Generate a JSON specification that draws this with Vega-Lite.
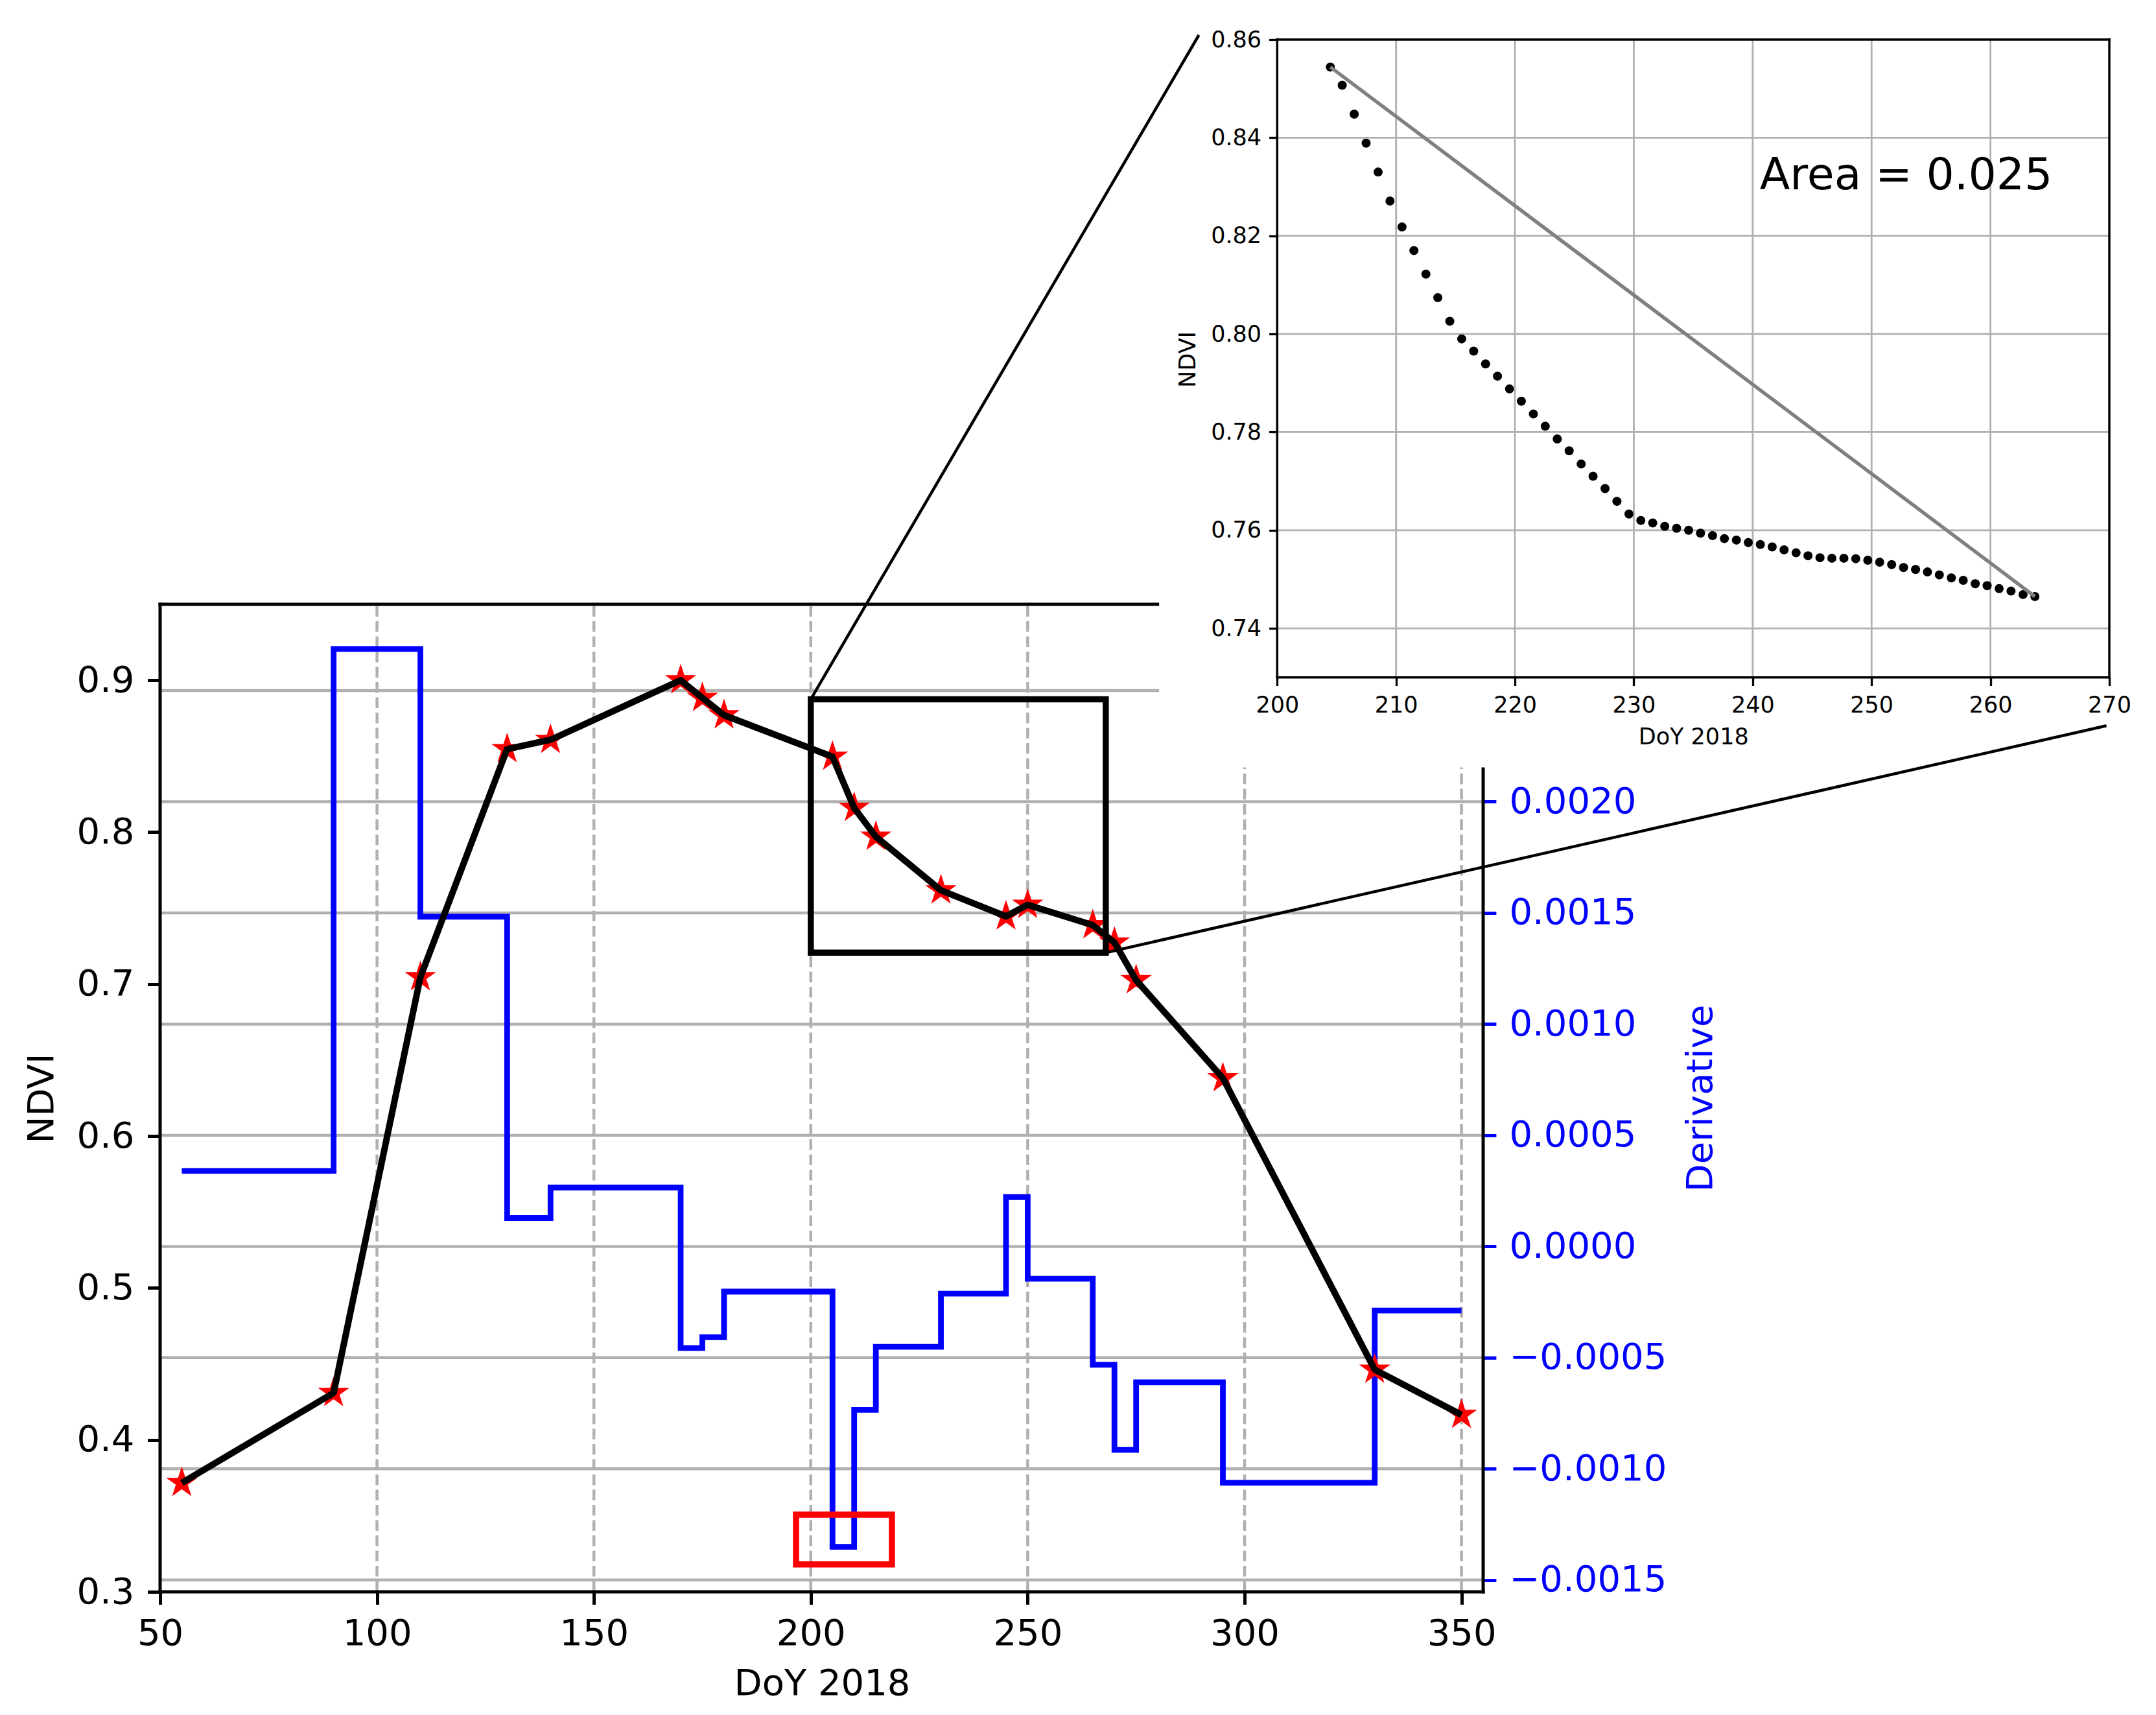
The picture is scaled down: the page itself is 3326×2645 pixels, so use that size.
{
  "$schema": "https://vega.github.io/schema/vega-lite/v6.json",
  "width": 3007,
  "height": 2394,
  "autosize": {"type": "none"},
  "padding": {"left": 247, "top": 61, "right": 72, "bottom": 190},
  "background": "white",
  "config": {
    "font": "DejaVu Sans",
    "view": {"stroke": null},
    "axis": {
      "domain": false,
      "grid": false,
      "labelFont": "DejaVu Sans",
      "titleFont": "DejaVu Sans",
      "titleFontWeight": "normal",
      "labelColor": "black",
      "titleColor": "black",
      "tickColor": "black",
      "labelFlush": false,
      "labelOverlap": false,
      "labelLimit": 2000,
      "titleLimit": 2000,
      "maxExtent": 1000,
      "minExtent": 0
    }
  },
  "datasets": {
    "ndvi": [
      {"x": 55, "y": 0.3717}, {"x": 90, "y": 0.4309}, {"x": 110, "y": 0.7046}, {"x": 130, "y": 0.8547},
      {"x": 140, "y": 0.8608}, {"x": 170, "y": 0.9}, {"x": 175, "y": 0.8884}, {"x": 180, "y": 0.877},
      {"x": 205, "y": 0.8497}, {"x": 210, "y": 0.816}, {"x": 215, "y": 0.797}, {"x": 230, "y": 0.7617},
      {"x": 245, "y": 0.7446}, {"x": 250, "y": 0.7522}, {"x": 265, "y": 0.7388}, {"x": 270, "y": 0.7274},
      {"x": 275, "y": 0.7026}, {"x": 295, "y": 0.6381}, {"x": 330, "y": 0.4462}, {"x": 350, "y": 0.4165}
    ],
    "deriv": [
      {"x": 55, "y": 0.00034}, {"x": 90, "y": 0.002687}, {"x": 110, "y": 0.001483}, {"x": 130, "y": 0.000128},
      {"x": 140, "y": 0.000265}, {"x": 170, "y": -0.000457}, {"x": 175, "y": -0.000408}, {"x": 180, "y": -0.000203},
      {"x": 205, "y": -0.001351}, {"x": 210, "y": -0.000735}, {"x": 215, "y": -0.000451}, {"x": 230, "y": -0.000212},
      {"x": 245, "y": 0.000222}, {"x": 250, "y": -0.000145}, {"x": 265, "y": -0.000532}, {"x": 270, "y": -0.000915},
      {"x": 275, "y": -0.000611}, {"x": 295, "y": -0.001063}, {"x": 330, "y": -0.000288}, {"x": 350, "y": -0.000288}
    ],
    "inset": [
      {"x": 204.47, "y": 0.8544}, {"x": 205.47, "y": 0.8507}, {"x": 206.48, "y": 0.8448}, {"x": 207.48, "y": 0.8389},
      {"x": 208.49, "y": 0.833}, {"x": 209.49, "y": 0.8271}, {"x": 210.5, "y": 0.8218}, {"x": 211.5, "y": 0.817},
      {"x": 212.51, "y": 0.8122}, {"x": 213.51, "y": 0.8074}, {"x": 214.52, "y": 0.8026}, {"x": 215.52, "y": 0.799},
      {"x": 216.53, "y": 0.7965}, {"x": 217.53, "y": 0.7939}, {"x": 218.53, "y": 0.7914}, {"x": 219.54, "y": 0.7888},
      {"x": 220.54, "y": 0.7863}, {"x": 221.55, "y": 0.7837}, {"x": 222.55, "y": 0.7812}, {"x": 223.56, "y": 0.7786},
      {"x": 224.56, "y": 0.7762}, {"x": 225.57, "y": 0.7735}, {"x": 226.57, "y": 0.771}, {"x": 227.58, "y": 0.7685},
      {"x": 228.58, "y": 0.7659}, {"x": 229.59, "y": 0.7633}, {"x": 230.59, "y": 0.762}, {"x": 231.59, "y": 0.7615},
      {"x": 232.6, "y": 0.7608}, {"x": 233.6, "y": 0.7604}, {"x": 234.61, "y": 0.76}, {"x": 235.61, "y": 0.7594},
      {"x": 236.62, "y": 0.7589}, {"x": 237.62, "y": 0.7583}, {"x": 238.63, "y": 0.758}, {"x": 239.63, "y": 0.7575},
      {"x": 240.64, "y": 0.7571}, {"x": 241.64, "y": 0.7566}, {"x": 242.64, "y": 0.756}, {"x": 243.65, "y": 0.7554},
      {"x": 244.65, "y": 0.7548}, {"x": 245.66, "y": 0.7544}, {"x": 246.66, "y": 0.7543}, {"x": 247.67, "y": 0.7543},
      {"x": 248.67, "y": 0.7542}, {"x": 249.68, "y": 0.7539}, {"x": 250.68, "y": 0.7535}, {"x": 251.69, "y": 0.753},
      {"x": 252.69, "y": 0.7524}, {"x": 253.7, "y": 0.752}, {"x": 254.7, "y": 0.7515}, {"x": 255.7, "y": 0.7509},
      {"x": 256.71, "y": 0.7503}, {"x": 257.71, "y": 0.7498}, {"x": 258.72, "y": 0.7491}, {"x": 259.72, "y": 0.7487},
      {"x": 260.73, "y": 0.7481}, {"x": 261.73, "y": 0.7476}, {"x": 262.74, "y": 0.7469}, {"x": 263.74, "y": 0.7465}
    ]
  },
  "resolve": {
    "scale": {"x": "independent", "y": "independent"},
    "axis": {"x": "independent", "y": "independent"}
  },
  "layer": [
    {
      "data": {"values": [
        {"x": 50, "x2": 355, "y": -0.0015, "y2": -0.0015},
        {"x": 50, "x2": 355, "y": -0.001, "y2": -0.001},
        {"x": 50, "x2": 355, "y": -0.0005, "y2": -0.0005},
        {"x": 50, "x2": 355, "y": 0, "y2": 0},
        {"x": 50, "x2": 355, "y": 0.0005, "y2": 0.0005},
        {"x": 50, "x2": 355, "y": 0.001, "y2": 0.001},
        {"x": 50, "x2": 355, "y": 0.0015, "y2": 0.0015},
        {"x": 50, "x2": 355, "y": 0.002, "y2": 0.002},
        {"x": 50, "x2": 355, "y": 0.0025, "y2": 0.0025}
      ]},
      "mark": {"type": "rule", "color": "#b0b0b0", "strokeWidth": 4.5},
      "encoding": {
        "x": {"field": "x", "type": "quantitative", "scale": {"domain": [50, 499.35], "nice": false, "zero": false}, "axis": null},
        "y": {"field": "y", "type": "quantitative", "scale": {"domain": [-0.001553, 0.0054274], "nice": false, "zero": false}, "axis": null},
        "x2": {"field": "x2"},
        "y2": {"field": "y2"}
      }
    },
    {
      "data": {"values": [
        {"x": 100, "x2": 100, "y": 0.3, "y2": 0.95},
        {"x": 150, "x2": 150, "y": 0.3, "y2": 0.95},
        {"x": 200, "x2": 200, "y": 0.3, "y2": 0.95},
        {"x": 250, "x2": 250, "y": 0.3, "y2": 0.95},
        {"x": 300, "x2": 300, "y": 0.3, "y2": 0.95},
        {"x": 350, "x2": 350, "y": 0.3, "y2": 0.95}
      ]},
      "mark": {"type": "rule", "color": "#b0b0b0", "strokeWidth": 4.5, "strokeDash": [16.4, 7.1]},
      "encoding": {
        "x": {"field": "x", "type": "quantitative", "scale": {"domain": [50, 499.35], "nice": false, "zero": false},
          "axis": {"orient": "bottom", "values": [50, 100, 150, 200, 250, 300, 350], "format": "d", "tickSize": 19.4, "tickWidth": 5, "labelFontSize": 56, "labelPadding": 18, "title": "DoY 2018", "titleFontSize": 56, "titlePadding": 22, "titleX": 1021}},
        "y": {"field": "y", "type": "quantitative", "scale": {"domain": [0.3, 1.32172], "nice": false, "zero": false},
          "axis": {"orient": "left", "values": [0.3, 0.4, 0.5, 0.6, 0.7, 0.8, 0.9], "format": ".1f", "tickSize": 19.4, "tickWidth": 5, "labelFontSize": 56, "labelPadding": 20.6, "title": "NDVI", "titleFontSize": 56, "titlePadding": 24, "titleAngle": 270, "titleBaseline": "bottom", "titleY": 1632.5}},
        "x2": {"field": "x2"},
        "y2": {"field": "y2"}
      }
    },
    {
      "encoding": {
        "x": {"field": "x", "type": "quantitative", "scale": {"domain": [50, 499.35], "nice": false, "zero": false}, "axis": null},
        "y": {"field": "y", "type": "quantitative", "scale": {"domain": [-0.001553, 0.0054274], "nice": false, "zero": false},
          "axis": {"orient": "right", "offset": -965.5, "values": [-0.0015, -0.001, -0.0005, 0, 0.0005, 0.001, 0.0015, 0.002], "format": ".4f", "tickColor": "#0000ff", "tickSize": 19.4, "tickWidth": 5, "labelColor": "#0000ff", "labelFontSize": 56, "labelPadding": 20, "labelLimit": 2000, "title": "Derivative", "titleColor": "#0000ff", "titleFontSize": 56, "titlePadding": 26, "titleAngle": 270, "titleBaseline": "top", "titleY": 1632.5}}
      },
      "layer": [
        {
          "data": {"name": "deriv"},
          "mark": {"type": "line", "interpolate": "step-after", "color": "#0000ff", "strokeWidth": 8.8, "strokeJoin": "miter"}
        },
        {
          "data": {"values": [{"x": 196.6, "x2": 218.7, "y": -0.001206, "y2": -0.00143}]},
          "mark": {"type": "rect", "fillOpacity": 0, "stroke": "#ff0000", "strokeWidth": 9.5},
          "encoding": {"x2": {"field": "x2"}, "y2": {"field": "y2"}}
        }
      ]
    },
    {
      "encoding": {
        "x": {"field": "x", "type": "quantitative", "scale": {"domain": [50, 499.35], "nice": false, "zero": false}, "axis": null},
        "y": {"field": "y", "type": "quantitative", "scale": {"domain": [0.3, 1.32172], "nice": false, "zero": false}, "axis": null}
      },
      "layer": [
        {
          "data": {"name": "ndvi"},
          "mark": {"type": "point", "shape": "M0,-1L0.2245,-0.309L0.9511,-0.309L0.3633,0.118L0.5878,0.809L0,0.382L-0.5878,0.809L-0.3633,0.118L-0.9511,-0.309L-0.2245,-0.309Z", "filled": true, "color": "#ff0000", "stroke": "#ff0000", "strokeWidth": 5, "size": 1200, "opacity": 1}
        },
        {
          "data": {"name": "ndvi"},
          "mark": {"type": "line", "color": "black", "strokeWidth": 10, "strokeJoin": "round"}
        },
        {
          "data": {"values": [{"x": 200, "x2": 268, "y": 0.7207, "y2": 0.8875}]},
          "mark": {"type": "rect", "fillOpacity": 0, "stroke": "black", "strokeWidth": 9.5},
          "encoding": {"x2": {"field": "x2"}, "y2": {"field": "y2"}}
        },
        {
          "data": {"values": [
            {"x": 50, "x2": 50, "y": 0.3, "y2": 0.95},
            {"x": 355, "x2": 355, "y": 0.3, "y2": 0.95},
            {"x": 50, "x2": 355, "y": 0.3, "y2": 0.3},
            {"x": 50, "x2": 355, "y": 0.95, "y2": 0.95}
          ]},
          "mark": {"type": "rule", "color": "black", "strokeWidth": 5, "strokeCap": "square"},
          "encoding": {"x2": {"field": "x2"}, "y2": {"field": "y2"}}
        },
        {
          "data": {"values": [{"x": 280.3, "x2": 499.35, "y": 0.8427, "y2": 1.35}]},
          "mark": {"type": "rect", "fill": "white", "strokeWidth": 0},
          "encoding": {"x2": {"field": "x2"}, "y2": {"field": "y2"}}
        },
        {
          "data": {"values": [
            {"x": 200, "y": 0.8875, "x2": 289.47, "y2": 1.32471},
            {"x": 268, "y": 0.7207, "x2": 498.68, "y2": 0.87005}
          ]},
          "mark": {"type": "rule", "color": "black", "strokeWidth": 4.5},
          "encoding": {"x2": {"field": "x2"}, "y2": {"field": "y2"}}
        }
      ]
    },
    {
      "encoding": {
        "x": {"field": "x", "type": "quantitative", "scale": {"domain": [106.03, 270], "nice": false, "zero": false},
          "axis": {"orient": "bottom", "offset": -1410.2, "values": [200, 210, 220, 230, 240, 250, 260, 270], "format": "d", "tickSize": 12.7, "tickWidth": 3.3, "labelFontSize": 35, "labelPadding": 12.5, "title": "DoY 2018", "titleFontSize": 35, "titlePadding": 14, "titleX": 2365.2, "zindex": 1}},
        "y": {"field": "y", "type": "quantitative", "scale": {"domain": [0.54366, 0.86], "nice": false, "zero": false},
          "axis": {"orient": "left", "offset": -1723.3, "values": [0.74, 0.76, 0.78, 0.8, 0.82, 0.84, 0.86], "format": ".2f", "tickSize": 12.7, "tickWidth": 3.3, "labelFontSize": 35, "labelPadding": 12, "title": "NDVI", "titleFontSize": 35, "titlePadding": 16.7, "titleAngle": 270, "titleBaseline": "bottom", "titleY": 493, "zindex": 1}}
      },
      "layer": [
        {
          "data": {"values": [
            {"x": 210, "x2": 210, "y": 0.73, "y2": 0.86},
            {"x": 220, "x2": 220, "y": 0.73, "y2": 0.86},
            {"x": 230, "x2": 230, "y": 0.73, "y2": 0.86},
            {"x": 240, "x2": 240, "y": 0.73, "y2": 0.86},
            {"x": 250, "x2": 250, "y": 0.73, "y2": 0.86},
            {"x": 260, "x2": 260, "y": 0.73, "y2": 0.86},
            {"x": 200, "x2": 270, "y": 0.74, "y2": 0.74},
            {"x": 200, "x2": 270, "y": 0.76, "y2": 0.76},
            {"x": 200, "x2": 270, "y": 0.78, "y2": 0.78},
            {"x": 200, "x2": 270, "y": 0.8, "y2": 0.8},
            {"x": 200, "x2": 270, "y": 0.82, "y2": 0.82},
            {"x": 200, "x2": 270, "y": 0.84, "y2": 0.84}
          ]},
          "mark": {"type": "rule", "color": "#b0b0b0", "strokeWidth": 2.8},
          "encoding": {"x2": {"field": "x2"}, "y2": {"field": "y2"}}
        },
        {
          "data": {"name": "inset"},
          "mark": {"type": "circle", "color": "black", "size": 196, "opacity": 1}
        },
        {
          "data": {"values": [{"x": 204.47, "y": 0.8544, "x2": 263.74, "y2": 0.7465}]},
          "mark": {"type": "rule", "color": "#808080", "strokeWidth": 5.5},
          "encoding": {"x2": {"field": "x2"}, "y2": {"field": "y2"}}
        },
        {
          "data": {"values": [{"x": 240.6, "y": 0.8295, "label": "Area = 0.025"}]},
          "mark": {"type": "text", "fontSize": 68, "align": "left", "baseline": "alphabetic", "color": "black"},
          "encoding": {"text": {"field": "label"}}
        },
        {
          "data": {"values": [
            {"x": 200, "x2": 200, "y": 0.73, "y2": 0.86},
            {"x": 270, "x2": 270, "y": 0.73, "y2": 0.86},
            {"x": 200, "x2": 270, "y": 0.73, "y2": 0.73},
            {"x": 200, "x2": 270, "y": 0.86, "y2": 0.86}
          ]},
          "mark": {"type": "rule", "color": "black", "strokeWidth": 3.5, "strokeCap": "square"},
          "encoding": {"x2": {"field": "x2"}, "y2": {"field": "y2"}}
        }
      ]
    }
  ]
}
